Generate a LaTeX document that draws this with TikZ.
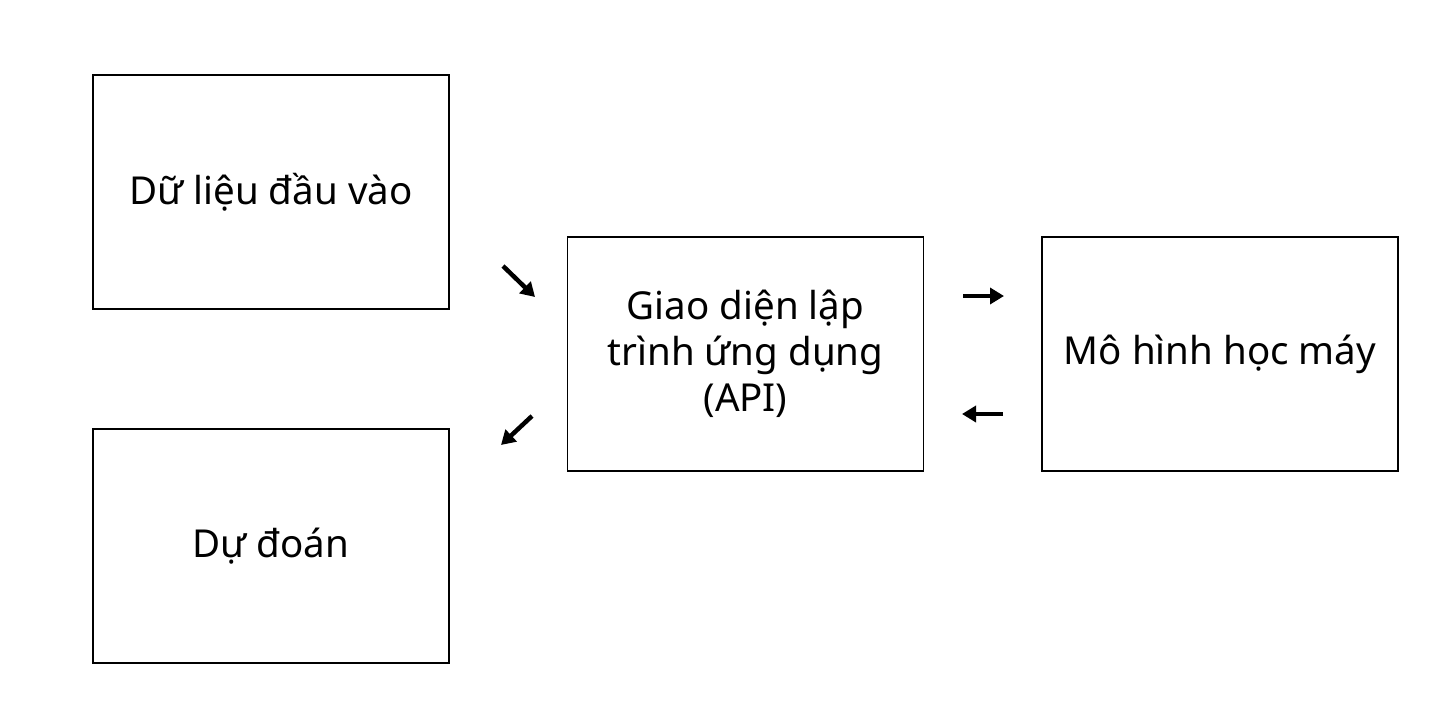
\documentclass[tikz,border=0pt]{standalone}
\usepackage{fontspec}
\setmainfont{Noto Sans}
\usepackage{tikz}
\usetikzlibrary{arrows.meta,positioning,calc}

\tikzset{
  block/.style={draw, line width=1.8pt, minimum width=356pt, minimum height=234pt,
    align=center, inner sep=0pt, font=\fontsize{38.5}{46}\selectfont},
  flow/.style={line width=4.5pt, -{Triangle[length=14pt,width=16pt]}}
}

\begin{document}
\begin{tikzpicture}[x=1pt,y=-1pt]
    \useasboundingbox (0,0) rectangle (1440,720);

    % Boxes
    \node[block] (input) at (271,192) {Dữ liệu đầu vào};
    \node[block] (pred) at (271,546) {Dự đoán};
    \node[block] (api) at (745.5,354) {Giao diện lập\\trình ứng dụng\\(API)};
    \node[block] (model) at (1220,354) {Mô hình học máy};

    % Arrow ends in the gaps
    \coordinate (inTail) at (503,266);
    \coordinate (inHead) at (535,297);
    \coordinate (outTail) at (532,416);
    \coordinate (outHead) at (501,445);
    \coordinate (toTail) at (963,296);
    \coordinate (toHead) at (1004,296);
    \coordinate (backTail) at (1003,414);
    \coordinate (backHead) at (962,414);

    % Arrows
    \draw[flow] (inTail) -- (inHead);
    \draw[flow] (outTail) -- (outHead);
    \draw[flow] (toTail) -- (toHead);
    \draw[flow] (backTail) -- (backHead);
\end{tikzpicture}
\end{document}
